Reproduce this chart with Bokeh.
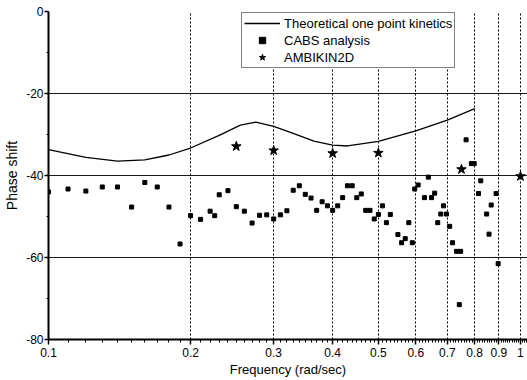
import numpy as np
from bokeh.plotting import figure
from bokeh.models import (FixedTicker, CustomJSTickFormatter, Range1d, Legend,
                          LegendItem)
from bokeh.embed import file_html
from bokeh.resources import INLINE

# ---------------- data ----------------
theory_freq = [0.10, 0.12, 0.14, 0.16, 0.18, 0.20, 0.23, 0.255, 0.275, 0.30,
               0.33, 0.365, 0.40, 0.43, 0.50, 0.60, 0.70, 0.80]
theory_phase = [-33.7, -35.6, -36.5, -36.2, -35.0, -33.3, -30.2, -27.7, -27.0, -28.0,
                -29.7, -31.6, -32.6, -32.8, -31.7, -29.1, -26.5, -23.7]

cabs_freq = [0.100, 0.110, 0.120, 0.130, 0.140, 0.150, 0.160, 0.170, 0.180, 0.190,
             0.200, 0.210, 0.220, 0.225, 0.230, 0.240, 0.250, 0.260, 0.270, 0.280,
             0.290, 0.300, 0.310, 0.320, 0.330, 0.340, 0.350, 0.360, 0.370, 0.380,
             0.390, 0.400, 0.410, 0.420, 0.430, 0.440, 0.450, 0.460, 0.470, 0.480,
             0.490, 0.500, 0.510, 0.520, 0.530, 0.550, 0.560, 0.570, 0.580, 0.590,
             0.597, 0.607, 0.626, 0.638, 0.648, 0.658, 0.668, 0.678, 0.687, 0.697,
             0.708, 0.718, 0.732, 0.742, 0.747, 0.767, 0.787, 0.798, 0.815, 0.824,
             0.848, 0.858, 0.867, 0.888, 0.897]
cabs_phase = [-44.0, -43.3, -43.8, -42.8, -42.8, -47.7, -41.7, -42.8, -47.7, -56.7,
              -49.8, -50.7, -48.7, -49.8, -44.7, -43.7, -47.6, -48.7, -51.6, -49.7,
              -49.6, -50.6, -49.6, -48.6, -43.6, -42.5, -44.6, -45.5, -48.5, -46.4,
              -47.4, -48.5, -47.4, -45.4, -42.5, -42.5, -45.4, -44.5, -48.5, -48.5,
              -50.6, -49.5, -47.4, -51.5, -49.5, -54.4, -56.4, -55.4, -51.5, -56.4,
              -43.3, -42.3, -45.4, -40.4, -45.4, -44.3, -51.5, -49.4, -47.4, -49.4,
              -52.4, -56.4, -58.5, -71.5, -58.5, -31.3, -37.1, -37.1, -44.4, -41.3,
              -49.4, -54.3, -47.2, -44.4, -61.5]

ambi_freq = [0.25, 0.30, 0.40, 0.50, 0.75, 1.00]
ambi_phase = [-32.9, -33.9, -34.6, -34.5, -38.5, -40.2]

x_ticks = [0.1, 0.2, 0.3, 0.4, 0.5, 0.6, 0.7, 0.8, 0.9, 1.0]
x_grid_ticks = [0.2, 0.3, 0.4, 0.5, 0.6, 0.7, 0.8, 0.9, 1.0]
y_ticks = [-80, -60, -40, -20, 0]
y_minor = [-70, -50, -30, -10]
y_grid_ticks = [-60, -40, -20]

# ---------------- figure ----------------
FONT = "Liberation Sans"
p = figure(width=527, height=380, x_axis_type="log",
           x_range=Range1d(0.1, 1.035), y_range=Range1d(-80, 0),
           output_backend="svg", toolbar_location=None,
           min_border_left=48, min_border_right=0, min_border_top=11,
           min_border_bottom=41)
p.outline_line_color = None
p.background_fill_color = "white"
p.border_fill_color = "white"

minor_x = [round(v, 2) for v in np.arange(0.11, 1.035, 0.01)
           if abs(v * 10 - round(v * 10)) > 1e-6]

p.xaxis.ticker = FixedTicker(ticks=x_ticks, minor_ticks=minor_x)
p.xaxis.formatter = CustomJSTickFormatter(code="return tick > 0.99 ? '1' : tick.toFixed(1);")
p.yaxis.ticker = FixedTicker(ticks=y_ticks, minor_ticks=y_minor)
p.yaxis.formatter = CustomJSTickFormatter(code="return String(Math.round(tick));")

for ax in (p.xaxis[0], p.yaxis[0]):
    ax.axis_line_color = "black"
    ax.axis_line_width = 2
    ax.major_tick_line_color = "black"
    ax.major_tick_line_width = 1.5
    ax.minor_tick_line_color = "black"
    ax.major_tick_in = 0
    ax.minor_tick_in = 0
    ax.major_label_text_font = FONT
    ax.major_label_text_color = "black"
    ax.axis_label_text_font = FONT
    ax.axis_label_text_color = "black"
    ax.axis_label_text_font_style = "normal"

p.xaxis.major_tick_out = 5
p.xaxis.minor_tick_out = 3
p.xaxis.major_label_standoff = 3
p.xaxis.major_label_text_font_size = "12px"
p.xaxis.axis_label = "Frequency (rad/sec)"
p.xaxis.axis_label_text_font_size = "13px"
p.xaxis.axis_label_standoff = 2

p.yaxis.major_tick_out = 4
p.yaxis.minor_tick_out = 2
p.yaxis.major_label_standoff = 1
p.yaxis.major_label_text_font_size = "12px"
p.yaxis.axis_label = "Phase shift"
p.yaxis.axis_label_text_font_size = "14px"
p.yaxis.axis_label_standoff = 3

p.xgrid.ticker = FixedTicker(ticks=x_grid_ticks)
p.xgrid.grid_line_color = "black"
p.xgrid.grid_line_dash = "2 2"
p.xgrid.grid_line_width = 1
p.ygrid.ticker = FixedTicker(ticks=y_grid_ticks)
p.ygrid.grid_line_color = "black"
p.ygrid.grid_line_width = 1.2
p.ygrid.grid_line_alpha = 0.9

# ---------------- glyphs ----------------
r_line = p.line(theory_freq, theory_phase, line_color="black", line_width=1.3)
r_cabs = p.scatter(cabs_freq, cabs_phase, marker="square", size=4,
                   fill_color="black", line_color="black")
r_ambi = p.scatter(ambi_freq, ambi_phase, marker="star", size=10,
                   fill_color="black", line_color="black")

legend = Legend(items=[
    LegendItem(label="Theoretical one point kinetics", renderers=[r_line]),
    LegendItem(label="CABS analysis", renderers=[r_cabs]),
    LegendItem(label="AMBIKIN2D", renderers=[r_ambi]),
], location=(193, 271))
legend.border_line_color = "black"
legend.border_line_width = 1
legend.background_fill_color = "white"
legend.background_fill_alpha = 1
legend.padding = 2
legend.spacing = 1
legend.margin = 0
legend.label_height = 16
legend.glyph_height = 16
legend.glyph_width = 36
legend.label_standoff = 4
legend.label_text_font = FONT
legend.label_text_font_size = "13px"
legend.label_text_color = "black"
p.add_layout(legend)

open("out.html", "w").write(file_html(p, INLINE))
